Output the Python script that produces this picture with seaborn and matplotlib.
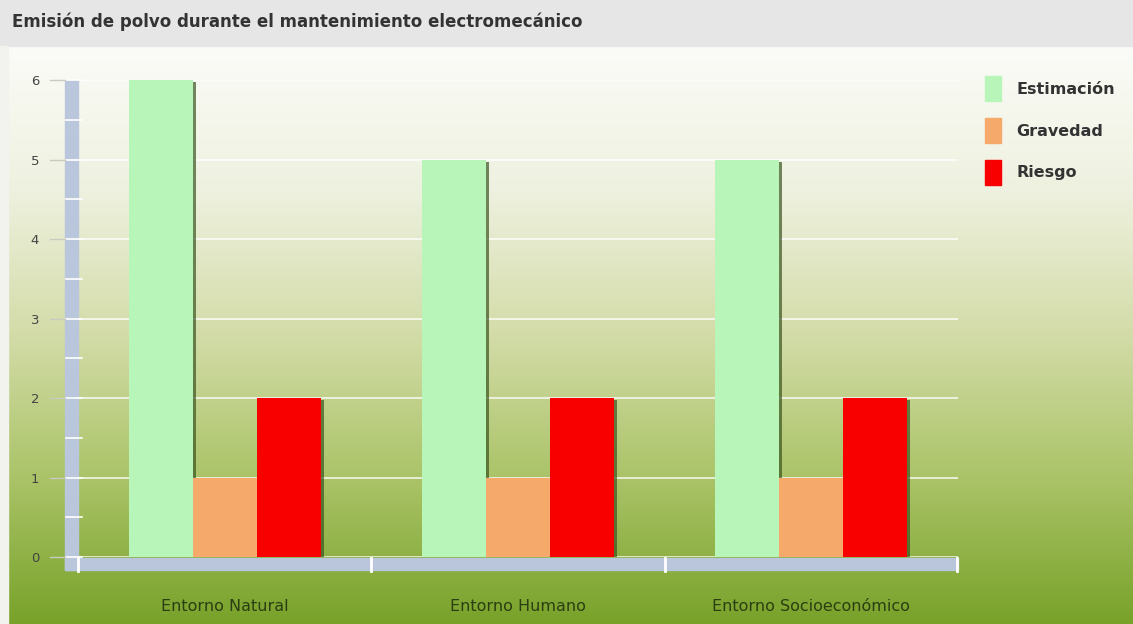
import numpy as np
import pandas as pd
import seaborn as sns
import matplotlib
matplotlib.use("Agg")
import matplotlib.pyplot as plt
from matplotlib.patches import Rectangle, Patch
from matplotlib import patheffects as pe
from matplotlib.colors import LinearSegmentedColormap

categories = ["Entorno Natural", "Entorno Humano", "Entorno Socioeconómico"]
series = ["Estimación", "Gravedad", "Riesgo"]
estimacion = [6, 5, 5]
gravedad = [1, 1, 1]
riesgo = [2, 2, 2]
yticks = [0, 1, 2, 3, 4, 5, 6]
colors = ["#b8f5b8", "#f5aa6c", "#f80000"]
title = "Emisión de polvo durante el mantenimiento electromecánico"

df = pd.DataFrame({
    "Entorno": categories * 3,
    "Serie": [s for s in series for _ in categories],
    "Valor": estimacion + gravedad + riesgo,
})

W, H = 1133, 624
fig = plt.figure(figsize=(W / 100, H / 100), dpi=100)


def fx(x):
    return x / W


def fy(y):
    return 1 - y / H


# background layer in pixel coordinates (origin top-left)
bg = fig.add_axes([0, 0, 1, 1], zorder=0)
bg.set_xlim(0, W)
bg.set_ylim(H, 0)
bg.axis("off")
cmap = LinearSegmentedColormap.from_list(
    "g", [(0, "#fbfcf8"), (0.25, "#eef1df"), (0.5, "#d3dca8"),
          (0.75, "#aac367"), (1, "#78a22a")])
grad = np.linspace(0, 1, 256).reshape(-1, 1)
bg.imshow(grad, cmap=cmap, aspect="auto", extent=[8, W, H, 46], zorder=0)
bg.add_patch(Rectangle((0, 0), W, 46, color="#e6e6e6", zorder=1))
bg.add_patch(Rectangle((0, 46), 8, H - 46, color="#f2f3ee", zorder=1))
bg.text(12, 22, title, fontsize=12, fontweight="bold", color="#333333",
        va="center", ha="left", zorder=2)

# main axes
ax = fig.add_axes([fx(78), fy(557), 880 / W, 477 / H], zorder=1)
ax.patch.set_alpha(0)
sns.barplot(data=df, x="Entorno", y="Valor", hue="Serie", palette=colors,
            width=0.655, saturation=1, ax=ax, legend=False, linewidth=0,
            errorbar=None)
for bar in ax.patches:
    bar.set_zorder(3)
    bar.set_path_effects([
        pe.SimplePatchShadow(offset=(2.2, -1.5), shadow_rgbFace="#3a5520",
                             alpha=0.7),
        pe.Normal()])

ax.set_xlim(-0.5, 2.5)
ax.set_ylim(0, 6)
ax.set_yticks(yticks)
ax.set_yticklabels([str(v) for v in yticks])
ax.grid(axis="y", color="white", lw=1.2, alpha=0.85)
ax.grid(axis="x", visible=False)
ax.set_axisbelow(True)
for s in ax.spines.values():
    s.set_visible(False)
ax.set_xlabel("")
ax.set_ylabel("")
ax.tick_params(axis="y", length=0, pad=28, labelsize=9.5, labelcolor="#444444")
ax.tick_params(axis="x", length=0, pad=30, labelsize=11.5, labelcolor="#2b3f12")

# axis bars (decoration) in pixel coords
def py(v):
    return H - ax.transData.transform((0, v))[1]


bar_col = "#b9c6dc"
bg.add_patch(Rectangle((65, 80), 13, 490, color=bar_col, zorder=2))
bg.add_patch(Rectangle((65, 558), 893, 12, color=bar_col, zorder=2))
for v in np.arange(0, 6.01, 0.5):
    y = py(v)
    bg.plot([66, 82], [y, y], color="white", lw=1.2, zorder=3)
    if float(v).is_integer():
        bg.plot([50, 65], [y, y], color="#c8ccc0", lw=1, zorder=3)
for xv in [78, 371, 665, 957]:
    bg.plot([xv, xv], [558, 571], color="white", lw=2, zorder=3)

fig.legend(handles=[Patch(color=c) for c in colors], labels=series,
           loc="upper left", bbox_to_anchor=(fx(971), fy(62)), frameon=False,
           handlelength=1.0, handleheight=2.0, handletextpad=0.95,
           labelspacing=1.07, prop={"weight": "bold", "size": 11.5},
           labelcolor="#333333")

fig.savefig("out.png", dpi=100)
